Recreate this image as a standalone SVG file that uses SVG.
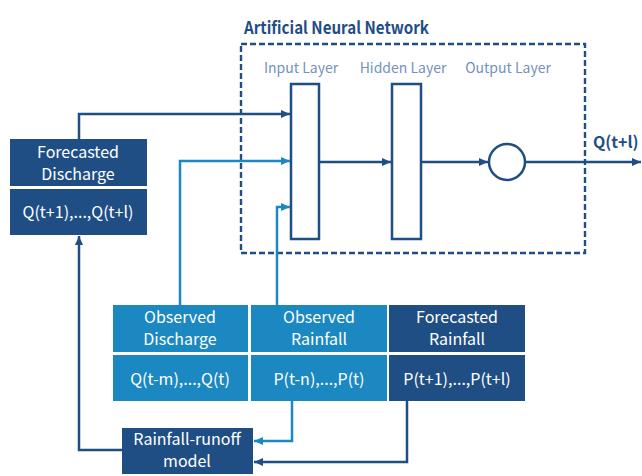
<svg xmlns="http://www.w3.org/2000/svg" width="642" height="476" viewBox="0 0 642 476">
<defs>
<style>
.t{font-family:"Noto Sans CJK KR","Liberation Sans",sans-serif;}
.wt{fill:#ffffff;font-size:16px;text-anchor:middle;}
.lay{fill:#7592bb;font-size:14px;text-anchor:middle;}
.dk{stroke:#1f4e85;stroke-width:2.5;fill:none;}
.lt{stroke:#1b88c2;stroke-width:2.5;fill:none;}
.fd{fill:#1f4e85;}
.fl{fill:#1b88c2;}
</style>
<marker id="ad" markerWidth="10" markerHeight="10" refX="9" refY="4" orient="auto" markerUnits="userSpaceOnUse"><path d="M0,0 L9,4 L0,8 z" fill="#1f4e85"/></marker>
<marker id="al" markerWidth="10" markerHeight="10" refX="9" refY="4" orient="auto" markerUnits="userSpaceOnUse"><path d="M0,0 L9,4 L0,8 z" fill="#1b88c2"/></marker>
</defs>
<rect width="642" height="476" fill="#ffffff"/>

<g id="ann">
<text class="t" x="244" y="34" font-size="17" font-weight="bold" fill="#1f4e85" textLength="185" lengthAdjust="spacingAndGlyphs">Artificial Neural Network</text>
<rect x="241" y="44" width="344" height="209" fill="none" stroke="#1f4e85" stroke-width="2.4" stroke-dasharray="6 3"/>
</g>

<g id="input-layer">
<text class="t lay" x="301" y="73">Input Layer</text>
<rect x="291" y="84" width="28" height="155" fill="#ffffff" stroke="#1f4e85" stroke-width="2.5"/>
</g>
<g id="hidden-layer">
<text class="t lay" x="403" y="73">Hidden Layer</text>
<rect x="392" y="84" width="29" height="155" fill="#ffffff" stroke="#1f4e85" stroke-width="2.5"/>
</g>
<g id="output-layer">
<text class="t lay" x="508" y="73">Output Layer</text>
<circle cx="507" cy="162" r="18" fill="#ffffff" stroke="#1f4e85" stroke-width="2.5"/>
</g>
<g id="output-label">
<text class="t" x="593" y="148" font-size="16" font-weight="bold" fill="#1f4e85">Q(t+l)</text>
</g>

<g id="forecasted-discharge">
<rect class="fd" x="10" y="139" width="137" height="47"/>
<rect class="fd" x="10" y="189" width="137" height="46"/>
<text class="t wt" x="78" y="158">Forecasted</text>
<text class="t wt" x="78" y="180">Discharge</text>
<text class="t wt" x="78" y="218">Q(t+1),...,Q(t+l)</text>
</g>

<g id="observed-discharge">
<rect class="fl" x="113" y="305" width="135" height="47"/>
<rect class="fl" x="113" y="355" width="135" height="46"/>
<text class="t wt" x="180" y="323">Observed</text>
<text class="t wt" x="180" y="345">Discharge</text>
<text class="t wt" x="180" y="385">Q(t-m),...,Q(t)</text>
</g>
<g id="observed-rainfall">
<rect class="fl" x="251" y="305" width="136" height="47"/>
<rect class="fl" x="251" y="355" width="136" height="46"/>
<text class="t wt" x="319" y="323">Observed</text>
<text class="t wt" x="319" y="345">Rainfall</text>
<text class="t wt" x="319" y="385">P(t-n),...,P(t)</text>
</g>
<g id="forecasted-rainfall">
<rect class="fd" x="389" y="305" width="136" height="47"/>
<rect class="fd" x="389" y="355" width="136" height="46"/>
<text class="t wt" x="457" y="323">Forecasted</text>
<text class="t wt" x="457" y="345">Rainfall</text>
<text class="t wt" x="457" y="385">P(t+1),...,P(t+l)</text>
</g>
<g id="rainfall-runoff">
<rect class="fd" x="122" y="428" width="131" height="46"/>
<text class="t wt" x="187" y="445">Rainfall-runoff</text>
<text class="t wt" x="187" y="467">model</text>
</g>

<g id="connectors">
<path class="dk" d="M79,139 V114 H290" marker-end="url(#ad)"/>
<path class="lt" d="M180,305 V161 H290" marker-end="url(#al)"/>
<path class="lt" d="M277,305 V207 H290" marker-end="url(#al)"/>
<path class="dk" d="M319,162 H391" marker-end="url(#ad)"/>
<path class="dk" d="M421,162 H488" marker-end="url(#ad)"/>
<path class="dk" d="M525,162 H641" marker-end="url(#ad)"/>
<path class="lt" d="M292,401 V441 H254" marker-end="url(#al)"/>
<path class="dk" d="M407,401 V462 H254" marker-end="url(#ad)"/>
<path class="dk" d="M122,450 H79 V236" marker-end="url(#ad)"/>
</g>
</svg>
